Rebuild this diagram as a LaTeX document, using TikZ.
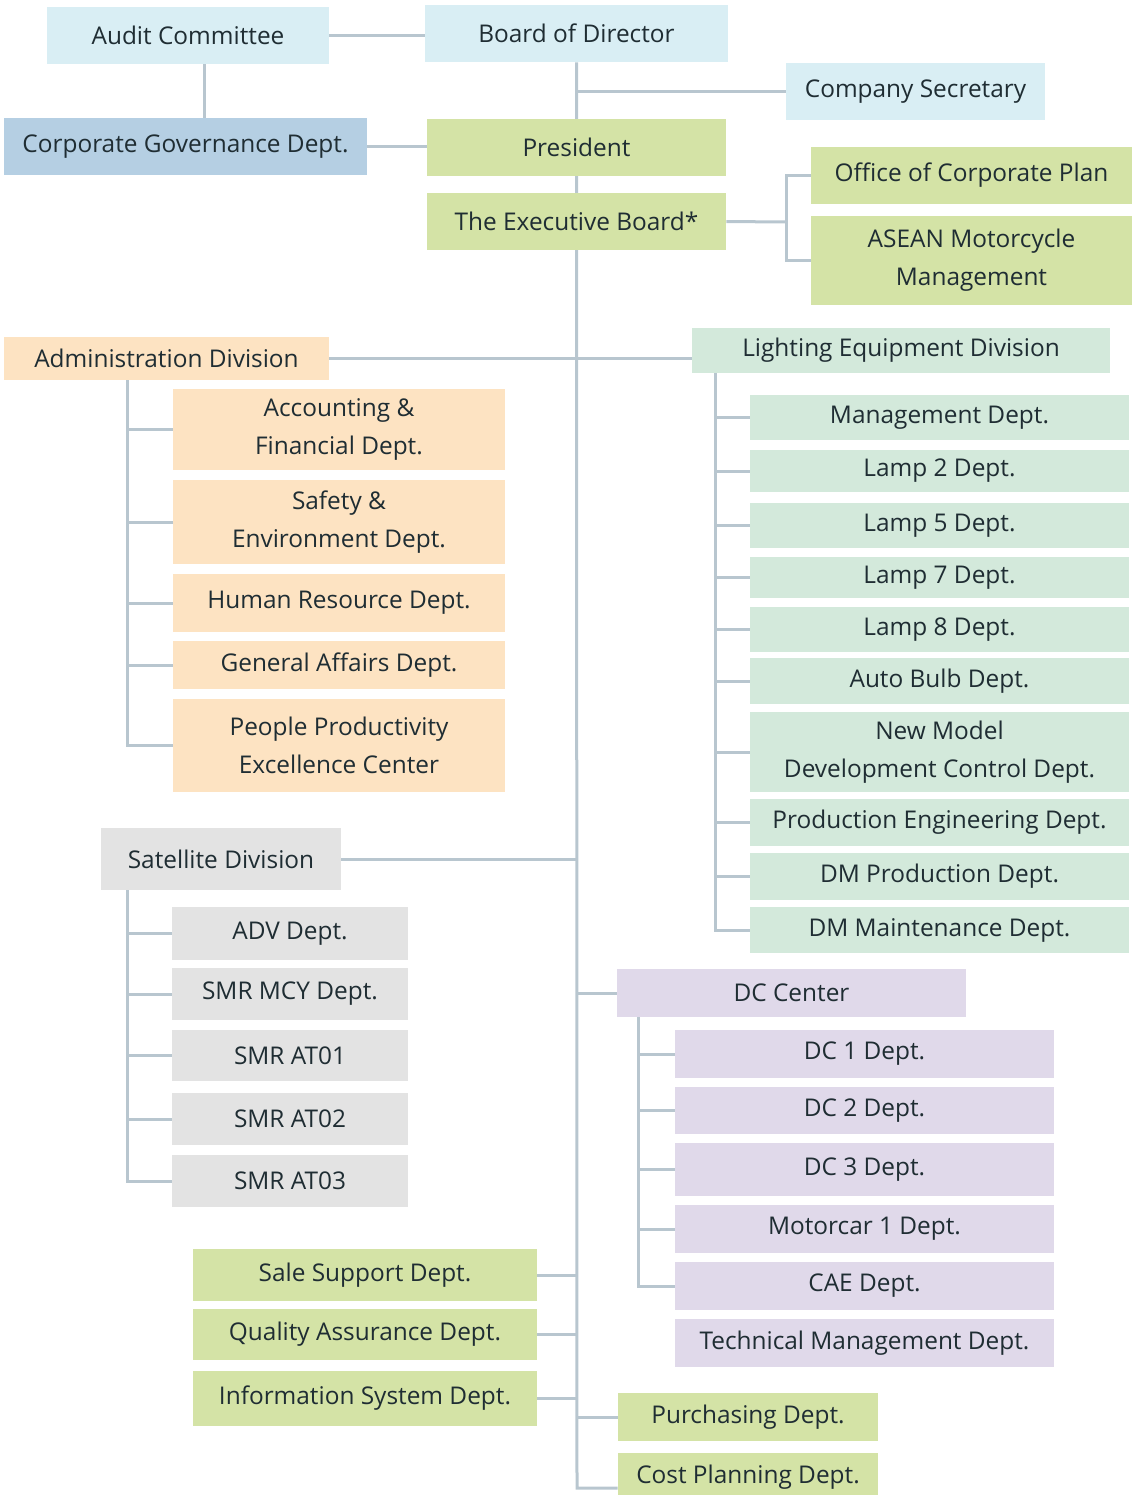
\documentclass[tikz,border=0pt]{standalone}
\usepackage{fontspec}
\setmainfont{Open Sans}
\usepackage{xcolor}
\usepackage{tikz}
\usetikzlibrary{calc}
\definecolor{ltblue}{HTML}{D9EEF4}
\definecolor{govblue}{HTML}{B5CFE3}
\definecolor{lime}{HTML}{D4E3A6}
\definecolor{peach}{HTML}{FDE3C2}
\definecolor{mint}{HTML}{D3E9DB}
\definecolor{silver}{HTML}{E3E3E3}
\definecolor{lilac}{HTML}{E0D9EA}
\definecolor{wire}{HTML}{B8C6CF}
\definecolor{ink}{HTML}{1F2D33}
\pgfdeclarelayer{bg}
\pgfsetlayers{bg,main}
\newcommand{\orgbox}[7]{% name, x1,y1,x2,y2 (px), fill, text
  \node[box,fill=#6,minimum width={(#4-#2)*0.5pt},minimum height={(#5-#3)*0.5pt}]
    (#1) at ({(#2+#4)/2},{(#3+#5)/2}) {#7};
}

\begin{document}
\begin{tikzpicture}[x=0.5pt,y=-0.5pt,
    box/.style={rectangle,inner sep=0pt,align=center,text=ink,
      font=\fontsize{12.2}{19}\selectfont},
    link/.style={draw=wire,line width=1.5pt}]
\useasboundingbox (0,0) rectangle (1132,1495);
% Reference grid (temporary)
%\draw[help lines,step=100] (0,0) grid (1132,1495);

% top
\orgbox{audit}{47}{7}{329}{64}{ltblue}{Audit Committee}
\orgbox{board}{425}{5}{728}{62}{ltblue}{Board of Director}
\orgbox{secretary}{786}{63}{1045}{120}{ltblue}{Company Secretary}
\orgbox{corpgov}{4}{118}{367}{175}{govblue}{Corporate Governance Dept.}
\orgbox{president}{427}{119}{726}{176}{lime}{President}
\orgbox{exec}{427}{193}{726}{250}{lime}{The Executive Board*}
\orgbox{corpplan}{811}{147}{1132}{204}{lime}{Office of Corporate Plan}
\orgbox{asean}{811}{216}{1132}{305}{lime}{ASEAN Motorcycle\\Management}

% administration
\orgbox{admin}{4}{337}{329}{380}{peach}{Administration Division}
\orgbox{acct}{173}{389}{505}{470}{peach}{Accounting \&\\Financial Dept.}
\orgbox{safety}{173}{480}{505}{564}{peach}{Safety \&\\Environment Dept.}
\orgbox{hr}{173}{574}{505}{632}{peach}{Human Resource Dept.}
\orgbox{ga}{173}{641}{505}{689}{peach}{General Affairs Dept.}
\orgbox{ppec}{173}{699}{505}{792}{peach}{People Productivity\\Excellence Center}

% lighting
\orgbox{lighting}{692}{328}{1110}{373}{mint}{Lighting Equipment Division}
\orgbox{mgmt}{750}{395}{1129}{440}{mint}{Management Dept.}
\orgbox{lamptwo}{750}{450}{1129}{492}{mint}{Lamp 2 Dept.}
\orgbox{lampfive}{750}{503}{1129}{548}{mint}{Lamp 5 Dept.}
\orgbox{lampseven}{750}{557}{1129}{598}{mint}{Lamp 7 Dept.}
\orgbox{lampeight}{750}{607}{1129}{652}{mint}{Lamp 8 Dept.}
\orgbox{autobulb}{750}{658}{1129}{704}{mint}{Auto Bulb Dept.}
\orgbox{newmodel}{750}{712}{1129}{792}{mint}{New Model\\Development Control Dept.}
\orgbox{prodeng}{750}{799}{1129}{846}{mint}{Production Engineering Dept.}
\orgbox{dmprod}{750}{853}{1129}{900}{mint}{DM Production Dept.}
\orgbox{dmmaint}{750}{907}{1129}{953}{mint}{DM Maintenance Dept.}

% satellite
\orgbox{satellite}{101}{828}{341}{890}{silver}{Satellite Division}
\orgbox{adv}{172}{907}{408}{960}{silver}{ADV Dept.}
\orgbox{smrmcy}{172}{968}{408}{1020}{silver}{SMR MCY Dept.}
\orgbox{atone}{172}{1030}{408}{1081}{silver}{SMR AT01}
\orgbox{attwo}{172}{1093}{408}{1145}{silver}{SMR AT02}
\orgbox{atthree}{172}{1155}{408}{1207}{silver}{SMR AT03}

% dc center
\orgbox{dccenter}{617}{969}{966}{1017}{lilac}{DC Center}
\orgbox{dcone}{675}{1030}{1054}{1078}{lilac}{DC 1 Dept.}
\orgbox{dctwo}{675}{1087}{1054}{1134}{lilac}{DC 2 Dept.}
\orgbox{dcthree}{675}{1143}{1054}{1196}{lilac}{DC 3 Dept.}
\orgbox{motorcar}{675}{1205}{1054}{1253}{lilac}{Motorcar 1 Dept.}
\orgbox{cae}{675}{1262}{1054}{1310}{lilac}{CAE Dept.}
\orgbox{techmgmt}{675}{1319}{1054}{1367}{lilac}{Technical Management Dept.}

% bottom
\orgbox{sale}{193}{1249}{537}{1301}{lime}{Sale Support Dept.}
\orgbox{qa}{193}{1309}{537}{1360}{lime}{Quality Assurance Dept.}
\orgbox{infosys}{193}{1371}{537}{1426}{lime}{Information System Dept.}
\orgbox{purch}{618}{1393}{878}{1441}{lime}{Purchasing Dept.}
\orgbox{cost}{618}{1453}{878}{1501}{lime}{Cost Planning Dept.}

\begin{pgfonlayer}{bg}
% trunk
\coordinate (trunkend) at (577,1488);
\draw[link] (board.south) -- (trunkend) -- (trunkend -| cost.west);
\draw[link] (audit.east) -- (audit.east -| board.west);
\draw[link] ([xshift=8pt]audit.south) -- ([xshift=8pt]audit.south |- corpgov.north);
\draw[link] (board.south |- secretary.west) -- (secretary.west);
\draw[link] (corpgov.east) -- (corpgov.east -| president.west);
\coordinate (planbus) at (786,222);
\draw[link] (exec.east) -- (planbus);
\draw[link] (corpplan.west) -| (planbus) |- (asean.west);

% division branches
\draw[link] (admin.east) -- (admin.east -| lighting.west);
\draw[link] (satellite.east) -- (satellite.east -| board.south);
\draw[link] (dccenter.west -| board.south) -- (dccenter.west);
\foreach \n in {sale,qa,infosys}
  \draw[link] (\n.east) -- (\n.east -| board.south);
\draw[link] (purch.west -| board.south) -- (purch.west);

% department buses
\coordinate (adminbus) at ([xshift=-22.5pt]acct.west |- admin.south);
\foreach \n in {acct,safety,hr,ga,ppec}
  \draw[link] (adminbus) |- (\n.west);
\coordinate (lightbus) at ([xshift=12pt]lighting.south west);
\foreach \n in {mgmt,lamptwo,lampfive,lampseven,lampeight,autobulb,newmodel,prodeng,dmprod,dmmaint}
  \draw[link] (lightbus) |- (\n.west);
\coordinate (satbus) at ([xshift=13.5pt]satellite.south west);
\foreach \n in {adv,smrmcy,atone,attwo,atthree}
  \draw[link] (satbus) |- (\n.west);
\coordinate (dcbus) at ([xshift=11pt]dccenter.south west);
\foreach \n in {dcone,dctwo,dcthree,motorcar,cae}
  \draw[link] (dcbus) |- (\n.west);
\end{pgfonlayer}
\end{tikzpicture}
\end{document}
